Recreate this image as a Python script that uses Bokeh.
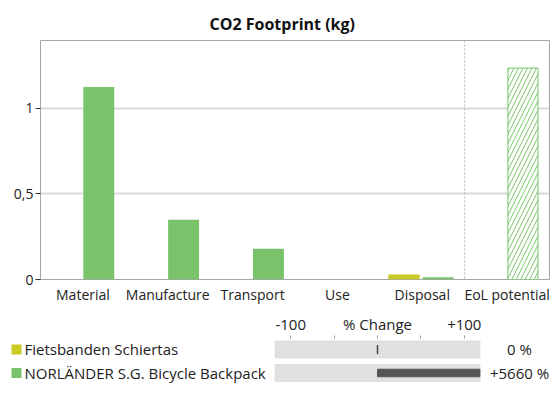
from bokeh.plotting import figure
from bokeh.models import (Range1d, FactorRange, FixedTicker, LinearAxis, Span, Title,
                          ColumnDataSource)
from bokeh.layouts import column
from bokeh.embed import file_html
from bokeh.resources import INLINE
from bokeh.core.properties import value
from bokeh.transform import dodge

# ---------------- data ----------------
stages = ["Material", "Manufacture", "Transport", "Use", "Disposal", "EoL potential"]
series = ["Fietsbanden Schiertas", "NORLÄNDER S.G. Bicycle Backpack"]
fiets_kg = [0, 0, 0, 0, 0.029, 0]
norlander_kg = [1.123, 0.349, 0.180, 0, 0.013, 1.234]
pct_change = [0, 5660]
y_ticks = [0, 0.5, 1]
y_tick_labels = ["0", "0,5", "1"]
chg_ticks = [-100, -50, 0, 50, 100]
chg_tick_labels = ["-100", "", "% Change", "", "+100"]
colors = ["#C9CA22", "#79C36B"]

FONT = "Open Sans"
W = 552
H_TOP = 306
H_BOT = 77
BL, BR = 40, 3          # frame borders (shared by both plots in the column)

# ---------------- main chart ----------------
p = figure(x_range=FactorRange(*stages), y_range=Range1d(0, 1.395),
           width=W, height=H_TOP, output_backend="svg", toolbar_location=None,
           min_border_left=BL, min_border_right=BR, min_border_top=40, min_border_bottom=24)
p.outline_line_color = "#A6A6A6"
p.background_fill_color = "white"
p.border_fill_color = "white"

p.title = Title(text="CO2 Footprint (kg)", align="left", offset=169, standoff=11,
                text_font=FONT, text_font_size="16px", text_font_style="bold",
                text_color="#111111")

solid = ColumnDataSource(dict(stage=stages[:-1], a=fiets_kg[:-1], b=norlander_kg[:-1]))
eol = ColumnDataSource(dict(stage=stages[-1:], a=fiets_kg[-1:], b=norlander_kg[-1:]))

p.vbar(x=dodge("stage", -0.215, range=p.x_range), top="a", width=0.37, source=solid,
       fill_color=colors[0], line_color=None)
p.vbar(x=dodge("stage", 0.187, range=p.x_range), top="b", width=0.365, source=solid,
       fill_color=colors[1], line_color=None)
p.vbar(x=dodge("stage", 0.187, range=p.x_range), top="b", width=0.355, source=eol,
       fill_color="white", line_color=colors[1], line_width=1,
       hatch_pattern="/", hatch_color=colors[1], hatch_scale=9, hatch_weight=1)

p.add_layout(Span(location=len(stages) - 1, dimension="height", line_color="#B5B5B5",
                  line_dash="2 2", line_width=1))

p.xgrid.visible = False
p.ygrid.grid_line_color = "#D9D9D9"
p.ygrid.grid_line_width = 2

p.yaxis.ticker = FixedTicker(ticks=y_ticks)
p.yaxis.major_label_overrides = dict(zip(y_ticks, y_tick_labels))
p.yaxis.minor_tick_line_color = None
p.yaxis.major_tick_out = 5
p.yaxis.major_tick_in = 0
p.yaxis.major_tick_line_color = "#333333"
p.yaxis.axis_line_color = None
p.yaxis.major_label_standoff = 2
p.yaxis.major_label_text_font = FONT
p.yaxis.major_label_text_font_size = "14px"
p.yaxis.major_label_text_color = "#222222"

p.xaxis.major_tick_line_color = None
p.xaxis.minor_tick_line_color = None
p.xaxis.axis_line_color = None
p.xaxis.major_label_standoff = -1
p.xaxis.major_label_text_font = FONT
p.xaxis.major_label_text_font_size = "14px"
p.xaxis.major_label_text_color = "#222222"

# ---------------- % change strip ----------------
PX_PER_PCT = 0.868
ZERO_PX = 377.0 - BL            # zero position, relative to the frame's left edge
FRAME_W = W - BL - BR
x0 = -ZERO_PX / PX_PER_PCT
x1 = (FRAME_W - ZERO_PX) / PX_PER_PCT
AX_LIM = 118

p2 = figure(width=W, height=H_BOT, x_range=Range1d(x0, x1), y_range=Range1d(1.447, -0.468),
            x_axis_location=None, y_axis_location=None, output_backend="svg",
            toolbar_location=None, min_border_left=BL, min_border_right=BR,
            min_border_top=32, min_border_bottom=0)
p2.outline_line_color = None
p2.grid.visible = False

rows = list(range(len(series)))
clipped = [max(-AX_LIM, min(AX_LIM, v)) for v in pct_change]
zero_rows = [r for r, v in zip(rows, pct_change) if v == 0]
val_labels = [("%+d %%" % v) if v != 0 else "0 %" for v in pct_change]

p2.hbar(y=rows, left=-AX_LIM, right=AX_LIM, height=0.72, color="#E0E0E0")
p2.hbar(y=rows, left=0, right=clipped, height=0.32, color="#555555")
p2.segment(x0=[0] * len(zero_rows), x1=[0] * len(zero_rows),
           y0=[r - 0.19 for r in zero_rows], y1=[r + 0.19 for r in zero_rows],
           line_color="#444444", line_width=1.5)


def px(page_x):
    """page pixel -> % change data coordinate (layout helper for legend placement)"""
    return (page_x - BL - ZERO_PX) / PX_PER_PCT


# legend swatches: 10px thick butt-capped lines (drawn above the frame clip)
for r, c in zip(rows, colors):
    p2.line(x=[px(11), px(21)], y=[r, r], line_color=c, line_width=10,
            line_cap="butt", level="overlay")
p2.text(x=[px(24)] * len(rows), y=rows, text=series, text_baseline="middle",
        text_font=value(FONT), text_font_size="15px", text_color="#222222",
        level="overlay")
p2.text(x=[px(519)] * len(rows), y=rows, text=val_labels, text_baseline="middle",
        text_align="center", text_font=value(FONT), text_font_size="15px",
        text_color="#222222", level="overlay")

ax = LinearAxis(ticker=FixedTicker(ticks=chg_ticks),
                major_label_overrides=dict(zip(chg_ticks, chg_tick_labels)))
ax.axis_line_color = None
ax.major_tick_out = 3
ax.major_tick_in = 0
ax.major_tick_line_color = "#999999"
ax.minor_tick_line_color = None
ax.major_label_standoff = 2
ax.major_label_text_font = FONT
ax.major_label_text_font_size = "15px"
ax.major_label_text_color = "#222222"
p2.add_layout(ax, "above")

layout = column(p, p2, spacing=0)
open("out.html", "w").write(file_html(layout, INLINE))
